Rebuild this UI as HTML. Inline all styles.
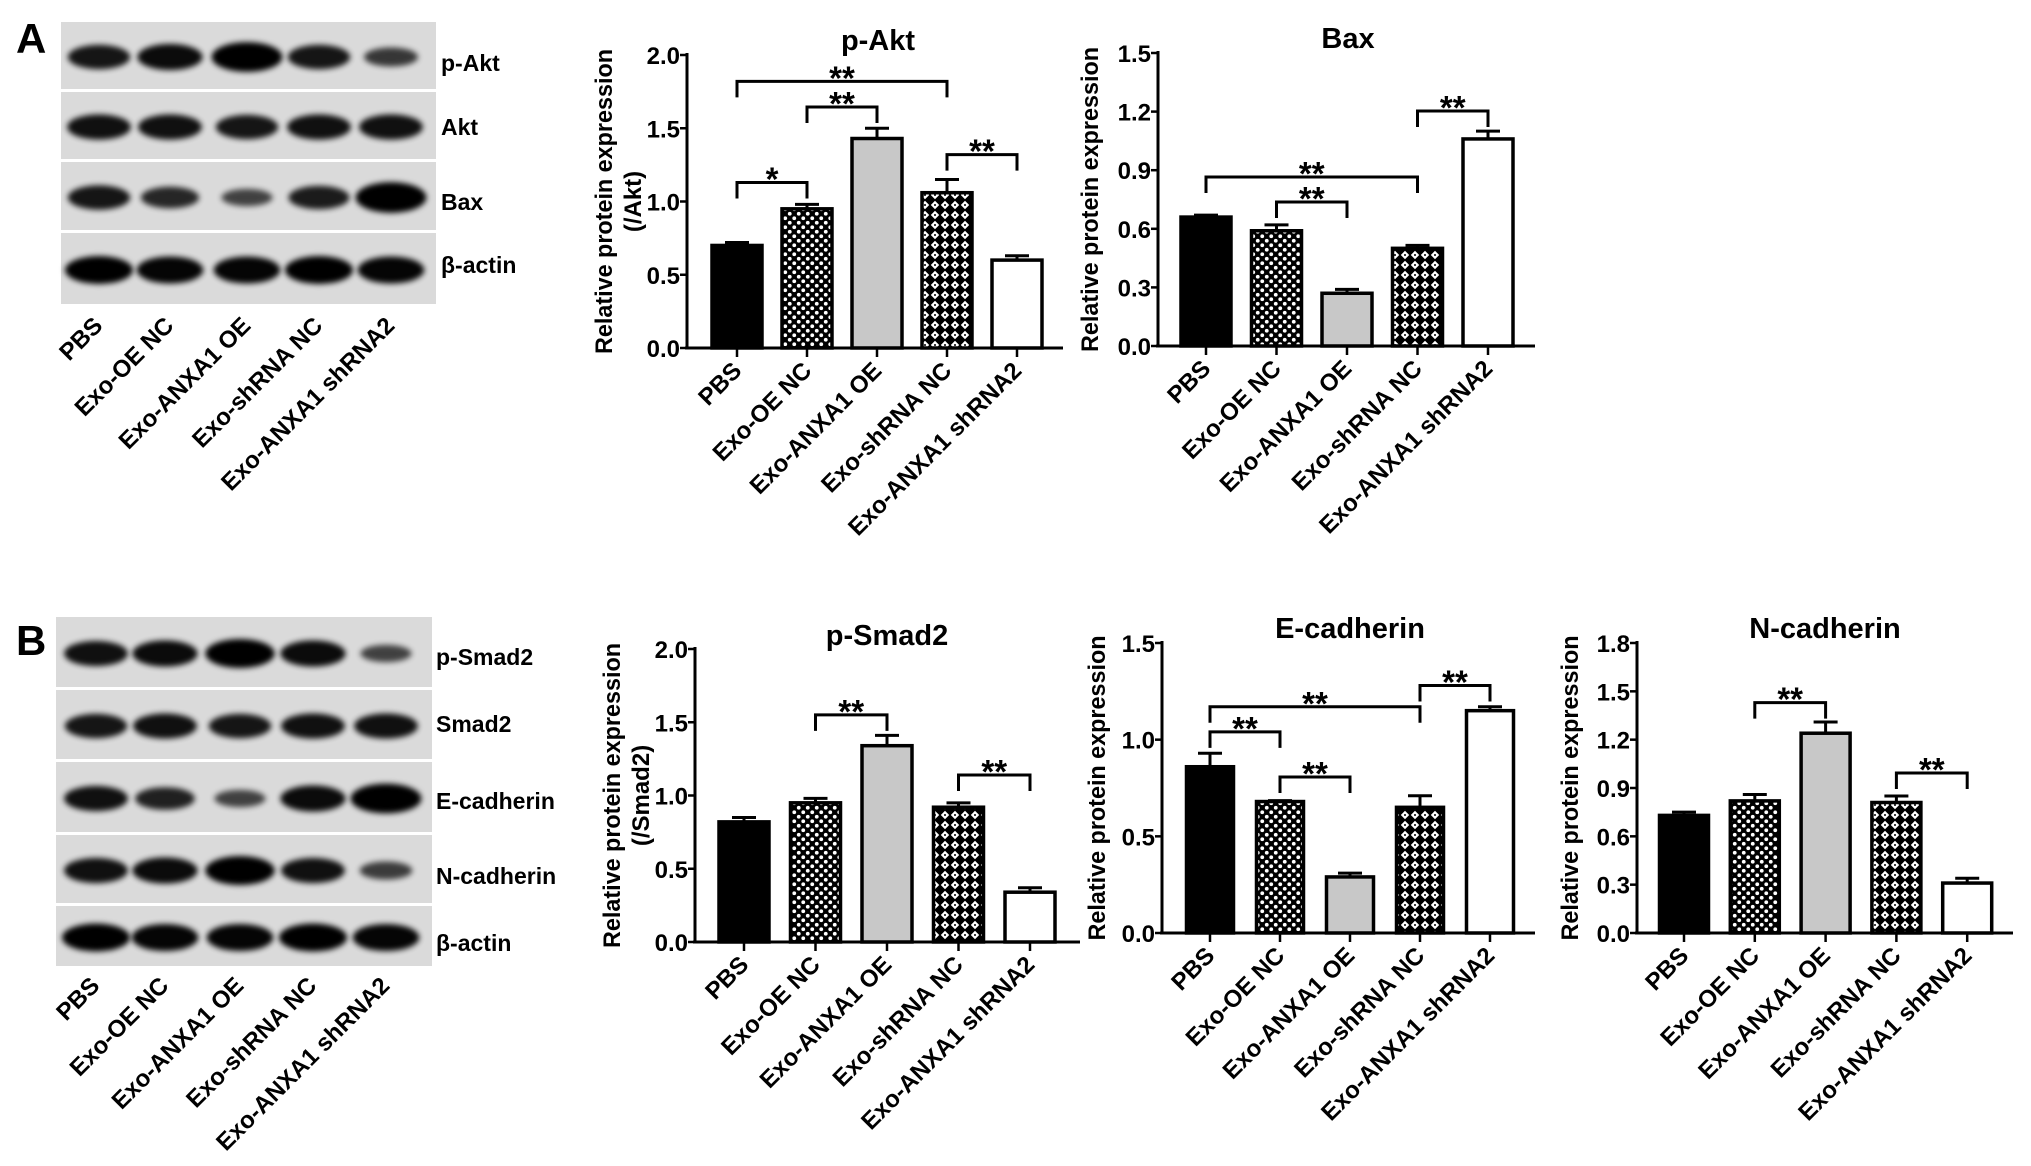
<!DOCTYPE html>
<html><head><meta charset="utf-8"><style>
html,body{margin:0;padding:0;background:#fff;}
svg{display:block;font-family:"Liberation Sans",Arial,sans-serif;}
</style></head><body>
<svg id="fig" width="2031" height="1166" viewBox="0 0 2031 1166" xmlns="http://www.w3.org/2000/svg">
<defs>
<pattern id="dots" width="9" height="9" patternUnits="userSpaceOnUse">
<rect width="9" height="9" fill="#000"/>
<circle cx="2.25" cy="2.25" r="1.9" fill="#fff"/>
<circle cx="6.75" cy="6.75" r="1.9" fill="#fff"/>
</pattern>
<pattern id="cross" width="10" height="10" patternUnits="userSpaceOnUse">
<rect width="10" height="10" fill="#000"/>
<path d="M5 0.8 L9.2 5 L5 9.2 L0.8 5 Z" fill="#fff"/>
<circle cx="5" cy="5" r="1" fill="#000"/>
</pattern>
<filter id="blur" x="-20%" y="-50%" width="140%" height="200%"><feGaussianBlur stdDeviation="3"/></filter>
</defs>
<g id="blots"></g>
<g id="charts"></g>
</svg>
<script>
// ---------- Data ----------
const categories = ["PBS","Exo-OE NC","Exo-ANXA1 OE","Exo-shRNA NC","Exo-ANXA1 shRNA2"];
const pAktValues = [0.70,0.95,1.43,1.06,0.60];
const pAktErrors = [0.02,0.03,0.07,0.09,0.03];
const pAktSig = [[0,1,1.13,"*"],[1,2,1.645,"**"],[0,3,1.82,"**"],[3,4,1.32,"**"]];
const baxValues = [0.66,0.59,0.27,0.50,1.06];
const baxErrors = [0.01,0.03,0.02,0.015,0.04];
const baxSig = [[0,3,0.865,"**"],[1,2,0.737,"**"],[3,4,1.203,"**"]];
const pSmad2Values = [0.82,0.95,1.34,0.92,0.34];
const pSmad2Errors = [0.03,0.03,0.07,0.03,0.03];
const pSmad2Sig = [[1,2,1.55,"**"],[3,4,1.14,"**"]];
const eCadValues = [0.86,0.68,0.29,0.65,1.15];
const eCadErrors = [0.07,0.005,0.02,0.06,0.02];
const eCadSig = [[0,1,1.04,"**"],[0,3,1.17,"**"],[1,2,0.807,"**"],[3,4,1.28,"**"]];
const nCadValues = [0.73,0.82,1.24,0.81,0.31];
const nCadErrors = [0.02,0.04,0.07,0.04,0.03];
const nCadSig = [[1,2,1.43,"**"],[3,4,0.993,"**"]];
const pAktTicks = ["0.0","0.5","1.0","1.5","2.0"];
const baxTicks = ["0.0","0.3","0.6","0.9","1.2","1.5"];
const pSmad2Ticks = ["0.0","0.5","1.0","1.5","2.0"];
const eCadTicks = ["0.0","0.5","1.0","1.5"];
const nCadTicks = ["0.0","0.3","0.6","0.9","1.2","1.5","1.8"];
const blotARows = ["p-Akt","Akt","Bax","β-actin"];
const blotAIntensity = [[0.8,0.9,1.1,0.8,0.5],[0.85,0.85,0.8,0.85,0.85],[0.8,0.65,0.4,0.75,1.15],[1,0.95,0.95,1,0.95]];
const blotBRows = ["p-Smad2","Smad2","E-cadherin","N-cadherin","β-actin"];
const blotBIntensity = [[0.85,0.9,1.05,0.9,0.4],[0.8,0.85,0.8,0.85,0.85],[0.85,0.7,0.4,0.9,1.1],[0.85,0.9,1.05,0.85,0.45],[1,0.95,0.95,1,0.95]];

const NS="http://www.w3.org/2000/svg";
function mk(tag, attrs, parent, text){
  const e=document.createElementNS(NS,tag);
  for(const k in attrs) e.setAttribute(k,attrs[k]);
  if(text!==undefined) e.textContent=text;
  parent.appendChild(e); return e;
}
const fills=["#000","url(#dots)","#c8c8c8","url(#cross)","#fff"];

function chart(cfg, values, errors, sig, ticks){
  const g=mk("g",{},document.getElementById("charts"));
  
  
  const ys=v=>cfg.y0-(v/cfg.max)*(cfg.y0-cfg.yTop);
  const xs=i=>cfg.c0+i*cfg.dx;
  const t=mk("text",{x:cfg.titleX,y:cfg.titleY,"text-anchor":"middle","font-size":29,"font-weight":"bold"},g,cfg.title);
  
  
  const ax=mk("line",{x1:cfg.ax,y1:cfg.yTop-2,x2:cfg.ax,y2:cfg.y0,stroke:"#000","stroke-width":3},g);
  
  
  ticks.forEach((lab)=>{
    const v=parseFloat(lab); const y=ys(v);
    mk("line",{x1:cfg.ax-7,y1:y,x2:cfg.ax,y2:y,stroke:"#000","stroke-width":2.5},g);
    const tl=mk("text",{x:cfg.ax-7,y:y+9,"text-anchor":"end","font-size":24,"font-weight":"bold"},g,lab);
    
    
  });
  const xa=mk("line",{x1:cfg.ax-2,y1:cfg.y0,x2:cfg.xEnd,y2:cfg.y0,stroke:"#000","stroke-width":3},g);
  
  
  const midY=(cfg.y0+cfg.yTop)/2;
  const yt=mk("text",{x:0,y:0,"text-anchor":"middle","font-size":24,"font-weight":"bold",transform:`translate(${cfg.ylx},${midY}) rotate(-90)`,textLength:305,lengthAdjust:"spacingAndGlyphs"},g,"Relative protein expression");
  
  
  if(cfg.sub){
    const ys2=mk("text",{x:0,y:0,"text-anchor":"middle","font-size":24,"font-weight":"bold",transform:`translate(${cfg.subx},${midY}) rotate(-90)`},g,cfg.sub);
    
    
  }
  values.forEach((v,i)=>{
    const cx=xs(i), top=ys(v), et=ys(v+errors[i]);
    mk("line",{x1:cx,y1:top,x2:cx,y2:et,stroke:"#000","stroke-width":3},g);
    mk("line",{x1:cx-12,y1:et,x2:cx+12,y2:et,stroke:"#000","stroke-width":3},g);
    const b=mk("rect",{x:cx-cfg.bw/2,y:top,width:cfg.bw,height:cfg.y0-top,fill:fills[i],stroke:"#000","stroke-width":3.5},g);
    
    
    mk("line",{x1:cx,y1:cfg.y0,x2:cx,y2:cfg.y0+9,stroke:"#000","stroke-width":2.5},g);
    const xl=mk("text",{x:0,y:0,"text-anchor":"end","font-size":24,"font-weight":"bold",transform:`translate(${cx+6},${cfg.y0+24}) rotate(-45)`},g,categories[i]);
    
    
  });
  sig.forEach(s=>{
    const x1=xs(s[0]), x2=xs(s[1]), y=ys(s[2]);
    const br=mk("path",{d:`M${x1} ${y+16} V${y} H${x2} V${y+16}`,fill:"none",stroke:"#000","stroke-width":3},g);
    
    
    const st=mk("text",{x:(x1+x2)/2,y:y+8,"text-anchor":"middle","font-size":33,"font-weight":"bold"},g,s[3]);
    
    
  });
}

chart({name:"p-akt",title:"p-Akt",titleX:878,titleY:50,ax:687,y0:348,yTop:55,max:2,c0:737,dx:70,xEnd:1063,bw:50,ylx:612,sub:"(/Akt)",subx:641},pAktValues,pAktErrors,pAktSig,pAktTicks);
chart({name:"bax",title:"Bax",titleX:1348,titleY:48,ax:1158,y0:346,yTop:53,max:1.5,c0:1206,dx:70.5,xEnd:1535,bw:50,ylx:1098},baxValues,baxErrors,baxSig,baxTicks);
chart({name:"p-smad2",title:"p-Smad2",titleX:887,titleY:645,ax:695,y0:942,yTop:649,max:2,c0:744,dx:71.5,xEnd:1080,bw:50,ylx:620,sub:"(/Smad2)",subx:649},pSmad2Values,pSmad2Errors,pSmad2Sig,pSmad2Ticks);
chart({name:"e-cadherin",title:"E-cadherin",titleX:1350,titleY:638,ax:1162,y0:933,yTop:643,max:1.5,c0:1210,dx:70,xEnd:1535,bw:47,ylx:1105},eCadValues,eCadErrors,eCadSig,eCadTicks);
chart({name:"n-cadherin",title:"N-cadherin",titleX:1825,titleY:638,ax:1637,y0:933,yTop:643,max:1.8,c0:1684,dx:70.8,xEnd:2013,bw:49,ylx:1578},nCadValues,nCadErrors,nCadSig,nCadTicks);

function blot(name,letter,lx,ly,x0,x1,rowEdges,rows,inten,labelX,labelYs,lanes,labY){
  const g=mk("g",{},document.getElementById("blots"));
  
  
  const L=mk("text",{x:lx,y:ly,"font-size":42,"font-weight":"bold"},g,letter);
  
  
  for(let r=0;r<rows.length;r++){
    const y0=rowEdges[r], y1=rowEdges[r+1];
    mk("rect",{x:x0,y:y0,width:x1-x0,height:y1-y0-3,fill:"#dadada"},g);
    const cy=(y0+y1)/2;
    inten[r].forEach((k,i)=>{
      const e=mk("ellipse",{cx:lanes[i],cy:cy,rx:20+14*Math.min(k,1.1),ry:5+9*k,fill:"#000",opacity:Math.min(1,0.5+0.5*k),filter:"url(#blur)"},g);
      
      
    });
    const t=mk("text",{x:labelX,y:labelYs[r]+8,"font-size":23,"font-weight":"bold"},g,rows[r]);
    
    
  }
  lanes.forEach((x,i)=>{
    const t=mk("text",{x:0,y:0,"text-anchor":"end","font-size":24,"font-weight":"bold",transform:`translate(${x+5},${labY}) rotate(-45)`},g,categories[i]);
    
    
  });
}
blot("western-blot-a","A",16,53,61,436,[22,92,162,233,307],blotARows,blotAIntensity,441,[63,127,202,265],[99,170,247,319,391],327);
blot("western-blot-b","B",16,655,56,432,[617,690,762,835,906,969],blotBRows,blotBIntensity,436,[657,724,801,876,943],[96,165,240,313,386],987);
</script>
</body></html>
